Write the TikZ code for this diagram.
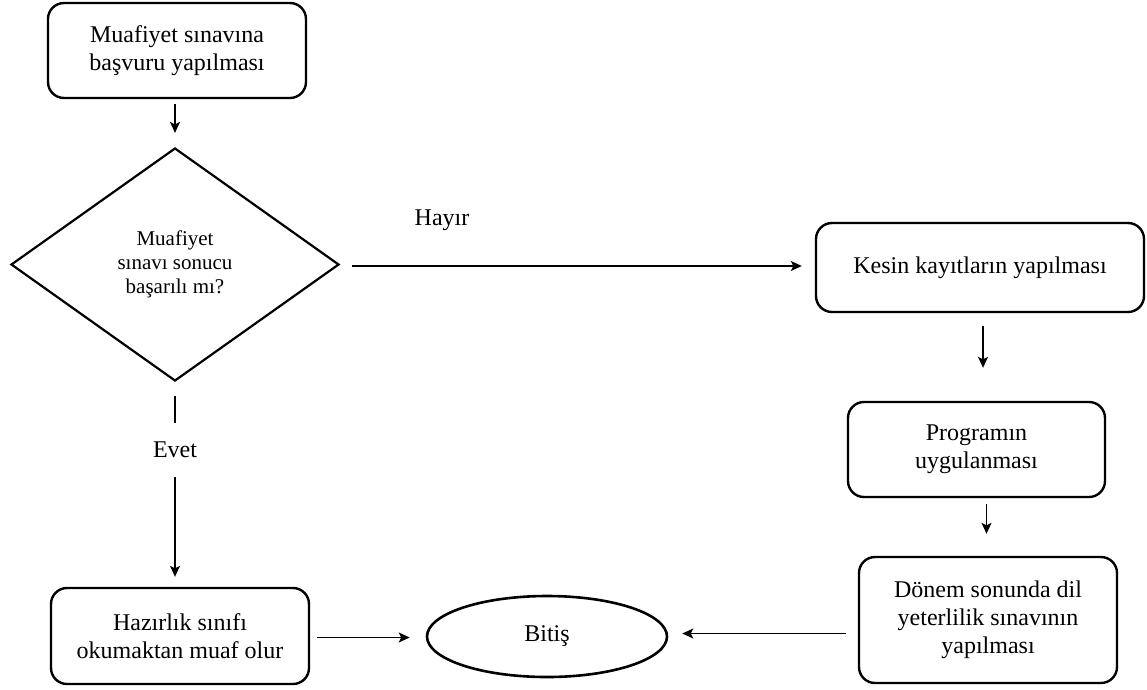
\documentclass[tikz,border=0pt]{standalone}
\usepackage{fontspec}
\setmainfont{Liberation Serif}
\usetikzlibrary{shapes.geometric,arrows.meta,calc}
\tikzset{
  box/.style={draw, line width=2.4pt, rounded corners=16pt, align=center, inner sep=0pt,
    font=\fontsize{24}{28}\selectfont},
  decision/.style={draw, shape=diamond, line width=2.2pt, align=center, inner sep=0pt,
    font=\fontsize{21}{24}\selectfont, minimum width=328pt, minimum height=233pt},
  terminal/.style={draw, shape=ellipse, line width=2.6pt, inner sep=0pt,
    minimum width=240pt, minimum height=81pt, font=\fontsize{24}{28}\selectfont},
  arr/.style={line width=1.3pt, -{Stealth[length=11pt,width=10pt,inset=2.5pt]}},
  lbl/.style={font=\fontsize{24}{28}\selectfont, inner sep=0pt}
}
\begin{document}
\begin{tikzpicture}[x=1pt,y=-1pt]
\useasboundingbox (0,0) rectangle (1147,689);
\node[box, minimum width=258pt, minimum height=95pt] (b1) at (177,50.5) {Muafiyet sınavına\\başvuru yapılması};
\node[decision] (dec) at (175,264.5) {Muafiyet\\sınavı sonucu\\başarılı mı?};
\node[box, minimum width=328pt, minimum height=89pt] (kesin) at (980,267.5) {Kesin kayıtların yapılması};
\node[box, minimum width=257pt, minimum height=95pt] (prog) at (976.5,449.5) {Programın\\uygulanması};
\node[box, minimum width=258pt, minimum height=126pt] (donem) at (988,620) {Dönem sonunda dil\\yeterlilik sınavının\\yapılması};
\node[box, minimum width=258pt, minimum height=96pt] (haz) at (180,636) {Hazırlık sınıfı\\okumaktan muaf olur};
\node[terminal] (bitis) at (547,636.5) {Bitiş};
\node[lbl] (hayir) at (442,220) {Hayır};

\draw[arr, shorten <=5pt, shorten >=14pt] (dec.north |- b1.south) -- (dec.north);
\draw[arr, shorten <=12pt, shorten >=13pt] ([yshift=-1.5pt]dec.east) -- ([yshift=-1.5pt]dec.east -| kesin.west);
\draw[arr, shorten <=14pt, shorten >=10pt] (dec.south) -- node[pos=0.33, fill=white, minimum height=54pt, inner xsep=2pt, font=\fontsize{24}{28}\selectfont] (evet) {Evet} (dec.south |- haz.north);
\draw[arr, shorten <=13pt, shorten >=33pt] ([xshift=3pt]kesin.south) -- ([xshift=3pt]kesin.south |- prog.north);
\draw[arr, shorten <=6pt, shorten >=22pt] ([xshift=10pt]prog.south) -- ([xshift=10pt]prog.south |- donem.north);
\draw[arr, shorten <=7pt, shorten >=16pt] ([yshift=-1.5pt]haz.east) -- ([yshift=-1.5pt]haz.east -| bitis.west);
\draw[arr, shorten <=12pt, shorten >=14pt] ([yshift=3pt]bitis.east -| donem.west) -- ([yshift=3pt]bitis.east);
\end{tikzpicture}
\end{document}
